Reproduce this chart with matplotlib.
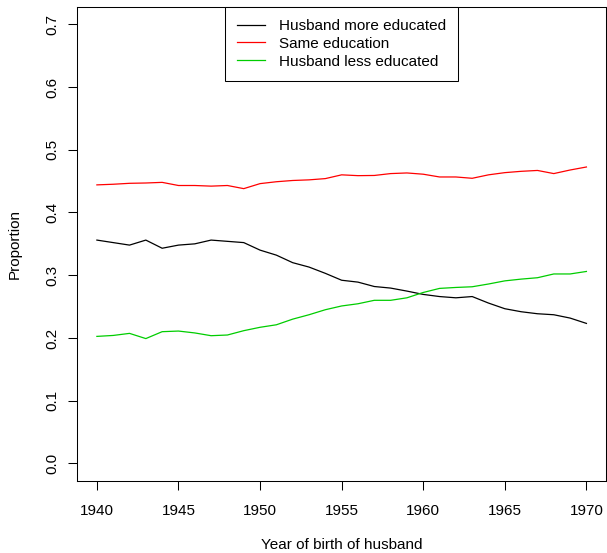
import matplotlib
matplotlib.use("Agg")
import matplotlib.pyplot as plt
import numpy as np

plt.rcParams['font.family'] = ['Liberation Sans', 'DejaVu Sans']

years = list(range(1940, 1971))
more_educated = [0.356, 0.352, 0.348, 0.356, 0.343, 0.348, 0.350, 0.356, 0.354, 0.352,
                 0.340, 0.332, 0.320, 0.313, 0.303, 0.292, 0.289, 0.282, 0.2795, 0.2747,
                 0.2694, 0.266, 0.264, 0.266, 0.2556, 0.2466, 0.2418, 0.2386, 0.237, 0.2317,
                 0.2232]
same_education = [0.444, 0.445, 0.4465, 0.447, 0.448, 0.443, 0.443, 0.442, 0.443, 0.438,
                  0.446, 0.449, 0.451, 0.452, 0.454, 0.460, 0.4587, 0.459, 0.462, 0.463,
                  0.461, 0.4566, 0.4566, 0.4545, 0.460, 0.4635, 0.4656, 0.467, 0.462, 0.4677,
                  0.4725]
less_educated = [0.2025, 0.204, 0.2073, 0.199, 0.210, 0.211, 0.208, 0.2036, 0.2047, 0.2116,
                 0.217, 0.221, 0.230, 0.237, 0.245, 0.251, 0.2545, 0.260, 0.260, 0.264,
                 0.2725, 0.279, 0.2805, 0.2816, 0.286, 0.291, 0.2938, 0.296, 0.302, 0.302,
                 0.306]
labels = ["Husband more educated", "Same education", "Husband less educated"]
colors = ["black", "red", "#00CD00"]
x_ticks = [1940, 1945, 1950, 1955, 1960, 1965, 1970]
y_ticks = [0.0, 0.1, 0.2, 0.3, 0.4, 0.5, 0.6, 0.7]

fig = plt.figure(figsize=(6.07, 5.53), dpi=100)
ax = fig.add_axes([77.3/607, 72/553, (606-77.3)/607, (481-6.7)/553])

for series, lab, col in zip([more_educated, same_education, less_educated], labels, colors):
    ax.plot(years, series, color=col, lw=0.9, label=lab)

ax.set_xlim(1938.8, 1971.2)
ax.set_ylim(-0.028, 0.728)
ax.set_xticks(x_ticks)
ax.set_yticks(y_ticks)
ax.set_yticklabels([f"{v:.1f}" for v in y_ticks], rotation=90, va='center')
ax.tick_params(axis='both', length=6.5, width=0.75, labelsize=11, direction='out')
ax.tick_params(axis='x', pad=10)
ax.tick_params(axis='y', pad=6.5)
for s in ax.spines.values():
    s.set_linewidth(0.75)
    s.set_color('black')

ax.set_xlabel("Year of birth of husband", fontsize=11, labelpad=14.5)
ax.set_ylabel("Proportion", fontsize=11, labelpad=17)

leg = ax.legend(loc='upper center', bbox_to_anchor=(0.5, 1.0), borderaxespad=0,
                fancybox=False, edgecolor='black', framealpha=1, fontsize=11,
                handlelength=1.8, handletextpad=0.9, labelspacing=0.25, borderpad=0.8)
leg.get_frame().set_linewidth(0.75)

fig.savefig("out.png", dpi=100)
